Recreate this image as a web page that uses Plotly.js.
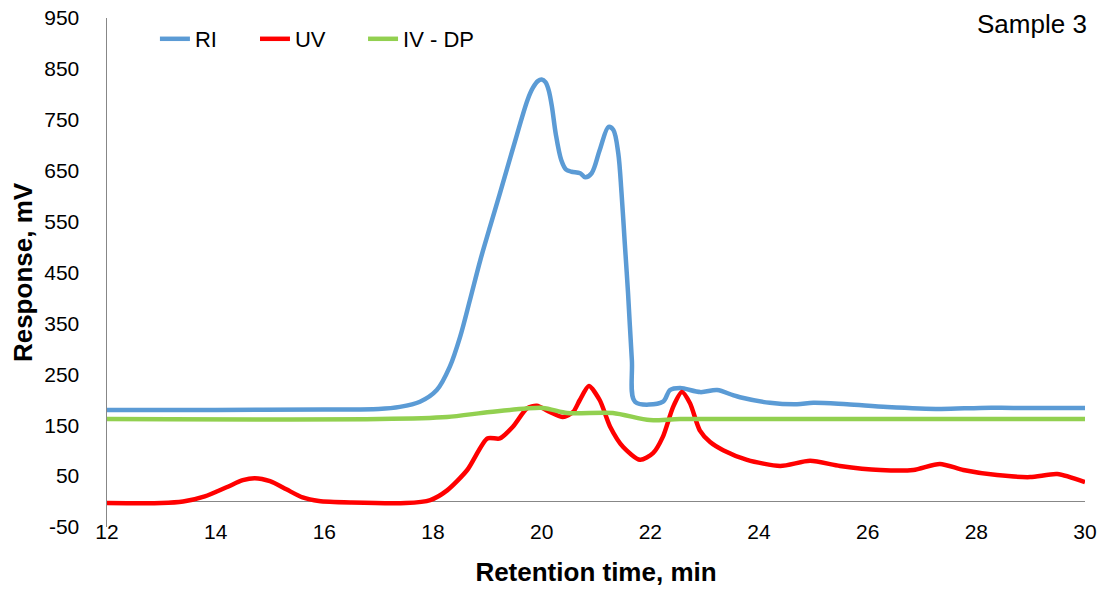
<!DOCTYPE html>
<html><head><meta charset="utf-8">
<script src="https://cdn.plot.ly/plotly-3.0.1.min.js"></script>
<style>html,body{margin:0;padding:0;background:#fff}#chart{width:1110px;height:592px}</style>
</head><body><div id="chart"></div>
<script>
const riX = [12, 14, 16, 17, 17.39, 17.76, 18.07, 18.31, 18.5, 18.68, 18.87, 19.05, 19.23, 19.48, 19.74, 19.84, 19.93, 20.0, 20.07, 20.13, 20.19, 20.26, 20.36, 20.45, 20.55, 20.71, 20.8, 20.92, 21.07, 21.23, 21.32, 21.41, 21.47, 21.53, 21.59, 21.66, 21.72, 22.23, 22.36, 22.55, 22.92, 23.23, 23.52, 23.65, 24.2, 24.7, 25.0, 25.62, 26.36, 27.33, 28.07, 28.68, 30];
const riY = [180, 180, 181, 182, 186, 196, 219, 265, 324, 396, 474, 540, 605, 697, 789, 813, 826, 829, 824, 808, 775, 722, 671, 652, 648, 645, 637, 645, 691, 736, 730, 684, 606, 507, 409, 278, 196, 196, 219, 223, 215, 219, 209, 205, 194, 191, 194, 191, 186, 182, 184, 184, 184];

const uvX = [12, 13, 13.4, 13.8, 14.2, 14.5, 14.72, 15.0, 15.3, 15.6, 15.9, 16.5, 17.5, 17.95, 18.26, 18.63, 19.0, 19.23, 19.47, 19.73, 19.91, 20.15, 20.39, 20.58, 20.7, 20.87, 21.07, 21.26, 21.5, 21.81, 22.05, 22.23, 22.42, 22.58, 22.73, 22.91, 23.1, 23.34, 23.78, 24.39, 24.94, 25.49, 26.23, 26.84, 27.33, 27.76, 28.38, 28.99, 29.49, 30];
const uvY = [-3, -3, 0, 10, 28, 42, 46, 40, 24, 8, 1, -2, -3, 3, 22, 62, 124, 124, 147, 183, 188, 176, 166, 176, 199, 227, 199, 147, 107, 82, 95, 127, 186, 215, 193, 140, 117, 101, 82, 70, 80, 70, 62, 62, 74, 62, 52, 48, 54, 38];

const dpX = [12, 17.02, 18.26, 19.05, 20.02, 20.47, 21.31, 21.99, 22.55, 30];
const dpY = [162, 162, 166, 176, 184, 174, 174, 160, 162, 162];

const yTickVals = [-50, 50, 150, 250, 350, 450, 550, 650, 750, 850, 950];
const yTickText = ['-50', '50', '150', '250', '350', '450', '550', '650', '750', '850', '950'];

const traces = [
  {x: riX, y: riY, name: 'RI', legend: 'legend', mode: 'lines', line: {color: '#5B9BD5', width: 4.5, shape: 'spline', smoothing: 0.9}},
  {x: uvX, y: uvY, name: 'UV', legend: 'legend2', mode: 'lines', line: {color: '#FF0000', width: 4.5, shape: 'spline', smoothing: 0.7}},
  {x: dpX, y: dpY, name: 'IV - DP', legend: 'legend3', mode: 'lines', line: {color: '#92D050', width: 4.5, shape: 'spline', smoothing: 0.7}}
];

const legBase = {orientation: 'h', y: 1.0, xanchor: 'left', yanchor: 'top', font: {size: 22}, bgcolor: 'rgba(0,0,0,0)'};

const layout = {
  width: 1110, height: 592,
  margin: {l: 107, r: 25, t: 18, b: 65},
  paper_bgcolor: '#fff', plot_bgcolor: '#fff',
  font: {family: 'Liberation Sans, Arial, sans-serif', color: '#000', size: 21},
  showlegend: true,
  legend: Object.assign({}, legBase, {x: 0.049}),
  legend2: Object.assign({}, legBase, {x: 0.1513}),
  legend3: Object.assign({}, legBase, {x: 0.2618}),
  xaxis: {
    range: [12, 30], tick0: 12, dtick: 2, showgrid: false, zeroline: false, showline: false,
    anchor: 'free', position: 0.02,
    ticks: '', tickfont: {size: 21}, ticklabelstandoff: 0,
    title: {text: '<b>Retention time, min</b>', font: {size: 26}, standoff: 20}
  },
  yaxis: {
    range: [-50, 950], tickmode: 'array', tickvals: yTickVals, ticktext: yTickText, showgrid: false, zeroline: true, zerolinecolor: '#878787', zerolinewidth: 1.5,
    showline: true, linecolor: '#878787', linewidth: 1.5, ticks: '', tickfont: {size: 21}, ticklabelstandoff: 22,
    title: {text: '<b>Response, mV</b>', font: {size: 26}, standoff: 4}
  },
  annotations: [{text: 'Sample 3', xref: 'paper', yref: 'paper', x: 1.0, y: 1.0, xanchor: 'right', yanchor: 'middle', showarrow: false, font: {size: 26}, xshift: 4, yshift: -6}]
};

Plotly.newPlot('chart', traces, layout, {displayModeBar: false, staticPlot: true});
</script></body></html>
